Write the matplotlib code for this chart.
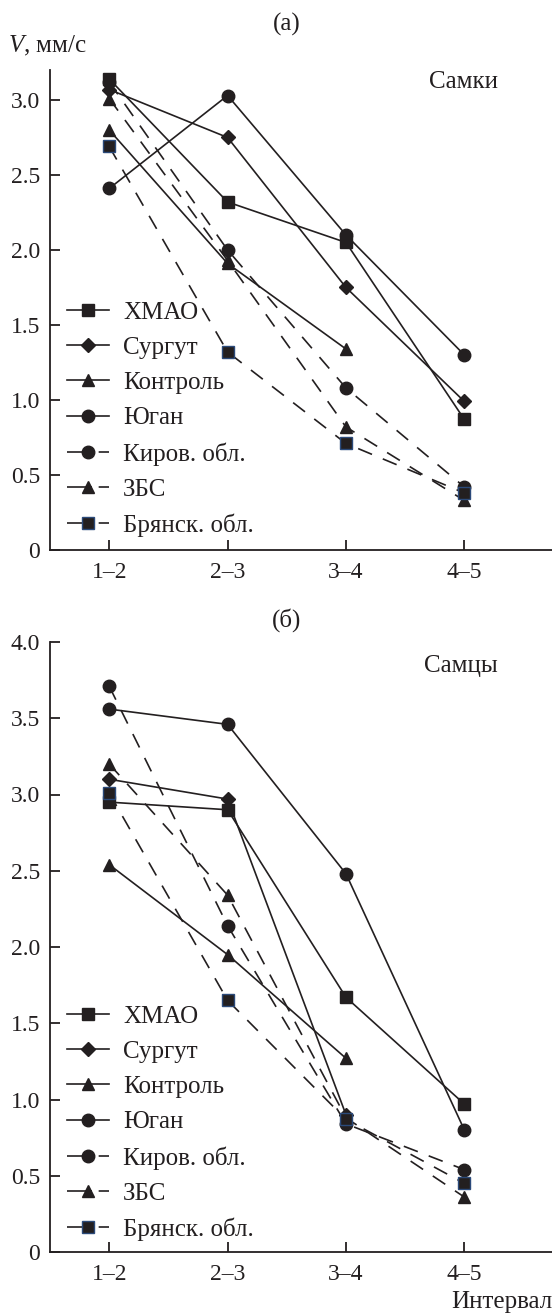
import numpy as np
import matplotlib
matplotlib.use("Agg")
import matplotlib.pyplot as plt
from matplotlib.lines import Line2D
from matplotlib.ticker import FuncFormatter

# ---------------------------------------------------------
# DATA
# ---------------------------------------------------------
intervals = ["1\u20132", "2\u20133", "3\u20134", "4\u20135"]
series_names = ["ХМАО", "Сургут", "Контроль", "Юган",
                "Киров. обл.", "ЗБС", "Брянск. обл."]

# (a) females, V in mm/s
female_hmao = [3.14, 2.32, 2.05, 0.87]
female_surgut = [3.07, 2.75, 1.75, 0.99]
female_control = [2.80, 1.91, 1.34, np.nan]
female_yugan = [2.41, 3.03, 2.10, 1.30]
female_kirov = [3.12, 2.00, 1.08, 0.42]
female_zbs = [3.01, 1.93, 0.82, 0.33]
female_bryansk = [2.69, 1.32, 0.71, 0.38]

# (б) males
male_hmao = [2.95, 2.90, 1.67, 0.97]
male_surgut = [3.10, 2.97, 0.90, np.nan]
male_control = [2.54, 1.95, 1.27, np.nan]
male_yugan = [3.56, 3.46, 2.48, 0.80]
male_kirov = [3.71, 2.14, 0.84, 0.54]
male_zbs = [3.20, 2.34, 0.88, 0.36]
male_bryansk = [3.01, 1.65, 0.87, 0.45]

female = [female_hmao, female_surgut, female_control, female_yugan,
          female_kirov, female_zbs, female_bryansk]
male = [male_hmao, male_surgut, male_control, male_yugan,
        male_kirov, male_zbs, male_bryansk]

# ---------------------------------------------------------
# STYLE
# ---------------------------------------------------------
plt.rcParams['font.family'] = ['Liberation Serif', 'DejaVu Serif']
plt.rcParams['font.size'] = 18
plt.rcParams['mathtext.fontset'] = 'custom'
plt.rcParams['mathtext.it'] = 'Liberation Serif:italic'

INK = '#231f20'
BLUE = '#2b4a7a'
markers = ['s', 'D', '^', 'o', 'o', '^', 's']
msizes = [9, 7, 9, 9, 9, 9, 9]
solid = [True, True, True, True, False, False, False]
edges = [INK] * 6 + [BLUE]
DASH = (0, (9, 7))
LEGEND_DASH = (0, (15, 4))

x = np.arange(len(intervals))


def draw_panel(ax, data, ymax, yticks, leg_y):
    handles = []
    for vals, name, m, ms, sol, ec in zip(data, series_names, markers,
                                          msizes, solid, edges):
        style = dict(color=INK, lw=1.2, marker=m, markersize=ms,
                     markerfacecolor=INK, markeredgecolor=ec,
                     markeredgewidth=1.0)
        ax.plot(x, vals, linestyle='-' if sol else DASH, **style)
        handles.append(Line2D([], [], linestyle='-' if sol else LEGEND_DASH,
                              label=name, **style))
    ax.set_xlim(-0.5, 3.74)
    ax.set_ylim(0, ymax)
    ax.set_xticks(x)
    ax.set_xticklabels(intervals)
    ax.set_yticks(yticks)
    ax.yaxis.set_major_formatter(
        FuncFormatter(lambda v, p: "0" if v == 0 else f"{v:.1f}"))
    for s in ['top', 'right']:
        ax.spines[s].set_visible(False)
    for s in ['left', 'bottom']:
        ax.spines[s].set_linewidth(1.3)
        ax.spines[s].set_color(INK)
    ax.tick_params(direction='in', length=7, width=1.3, colors=INK,
                   labelcolor=INK, labelsize=17)
    ax.tick_params(axis='x', pad=9)
    ax.tick_params(axis='y', pad=7)
    ax.legend(handles=handles, loc='lower left',
              bbox_to_anchor=(0.034, leg_y),
              frameon=False, borderpad=0, borderaxespad=0,
              handlelength=1.68, handletextpad=0.56, labelspacing=0.51,
              fontsize=18, labelcolor=INK)


fig = plt.figure(figsize=(5.52, 13.14), dpi=100)
ax1 = fig.add_axes([50 / 552, 1 - 550 / 1314, 502 / 552, 480 / 1314])
ax2 = fig.add_axes([50 / 552, 1 - 1252 / 1314, 502 / 552, 610 / 1314])

draw_panel(ax1, female, 3.2, [0, 0.5, 1.0, 1.5, 2.0, 2.5, 3.0], 0.027)
draw_panel(ax2, male, 4.0, [0, 0.5, 1.0, 1.5, 2.0, 2.5, 3.0, 3.5, 4.0],
           0.018)

fig.text(287 / 552, 1 - 24 / 1314, "(а)", ha='center', va='center',
         fontsize=18, color=INK)
fig.text(287 / 552, 1 - 620 / 1314, "(б)", ha='center', va='center',
         fontsize=18, color=INK)
fig.text(8 / 552, 1 - 46 / 1314, "$V$, мм/с", ha='left', va='center',
         fontsize=18, color=INK)
fig.text(498 / 552, 1 - 82 / 1314, "Самки", ha='right', va='center',
         fontsize=18, color=INK)
fig.text(498 / 552, 1 - 666 / 1314, "Самцы", ha='right', va='center',
         fontsize=18, color=INK)
fig.text(552 / 552, 1 - 1302 / 1314, "Интервал", ha='right', va='center',
         fontsize=18, color=INK)

fig.savefig("out.png", dpi=100)
